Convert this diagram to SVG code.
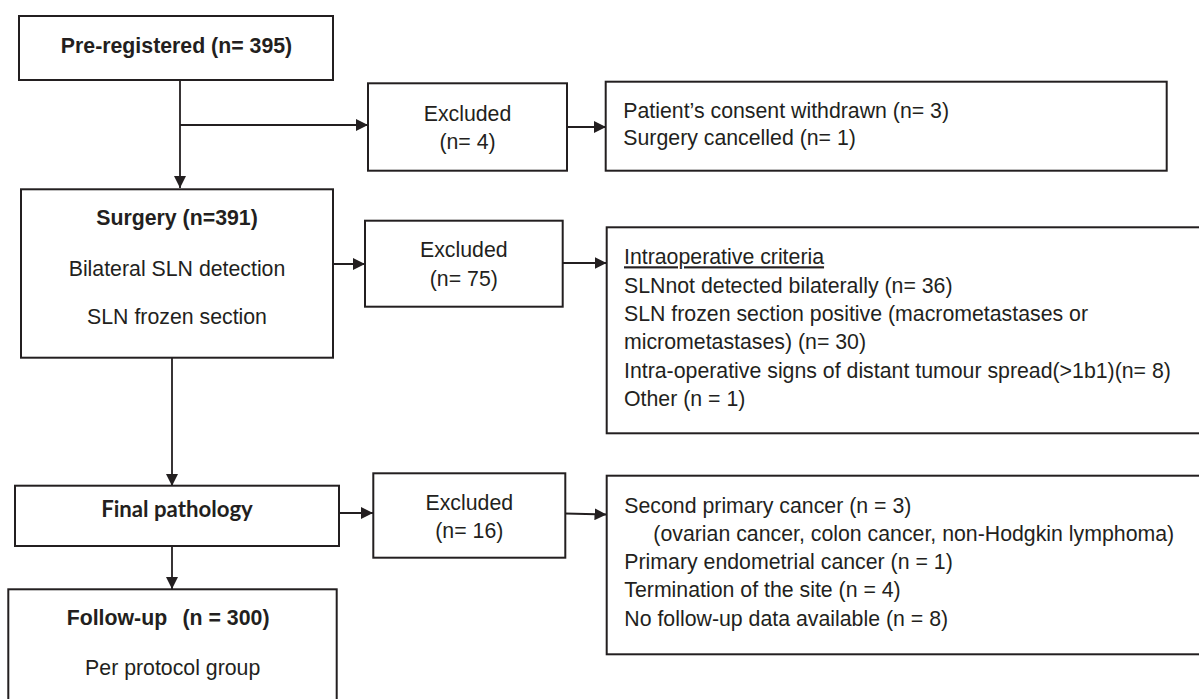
<svg xmlns="http://www.w3.org/2000/svg" width="1199" height="699" viewBox="0 0 1199 699">
<defs>
<marker id="ah" markerUnits="userSpaceOnUse" markerWidth="12" markerHeight="12" viewBox="0 0 12 12" refX="12" refY="6" orient="auto"><path d="M0,0 L12,6 L0,12 z" fill="#231f20"/></marker>
</defs>
<style>
.box{fill:#fff;stroke:#231f20;stroke-width:2}
.t{font-family:"Liberation Sans",Arial,sans-serif;font-size:21.3px;fill:#231f20}
.b{font-weight:bold}
.c{text-anchor:middle}
.cal{font-family:Lato,"Liberation Sans",sans-serif;font-weight:bold;font-size:22.2px;fill:#231f20}
.ln{fill:none;stroke:#231f20;stroke-width:1.8}
</style>
<rect width="1199" height="699" fill="#fff"/>
<g id="connectors">
<path class="ln" d="M180,80 V188" marker-end="url(#ah)"/>
<path class="ln" d="M180,125 H368" marker-end="url(#ah)"/>
<path class="ln" d="M567,127 H606" marker-end="url(#ah)"/>
<path class="ln" d="M331,264 H365" marker-end="url(#ah)"/>
<path class="ln" d="M563,263 H606.5" marker-end="url(#ah)"/>
<path class="ln" d="M172,358 V486" marker-end="url(#ah)"/>
<path class="ln" d="M339,513 H373" marker-end="url(#ah)"/>
<path class="ln" d="M565,513.5 L606.5,514.5" marker-end="url(#ah)"/>
<path class="ln" d="M172,546 V589" marker-end="url(#ah)"/>
</g>
<g id="preregistered">
<rect class="box" x="19" y="16" width="314" height="64"/>
<text class="t b c" x="176.5" y="53.3">Pre-registered (n= 395)</text>
</g>
<g id="excluded1">
<rect class="box" x="368" y="83.3" width="199" height="87.4"/>
<text class="t c" x="467.5" y="120.7">Excluded</text>
<text class="t c" x="467.5" y="148.5">(n= 4)</text>
</g>
<g id="reasons1">
<rect class="box" x="605.7" y="81.7" width="561" height="89"/>
<text class="t" x="623.3" y="117.7">Patient’s consent withdrawn (n= 3)</text>
<text class="t" x="623.3" y="145">Surgery cancelled (n= 1)</text>
</g>
<g id="surgery">
<rect class="box" x="21" y="189.3" width="312" height="168.4"/>
<text class="t b c" x="177" y="225">Surgery (n=391)</text>
<text class="t c" x="177" y="275.7">Bilateral SLN detection</text>
<text class="t c" x="177" y="324.3">SLN frozen section</text>
</g>
<g id="excluded2">
<rect class="box" x="365" y="220.7" width="197.7" height="86"/>
<text class="t c" x="463.8" y="257.3">Excluded</text>
<text class="t c" x="463.8" y="285.7">(n= 75)</text>
</g>
<g id="reasons2">
<rect class="box" x="606.7" y="227.3" width="600" height="206"/>
<text class="t" x="624" y="264.3" text-decoration="underline">Intraoperative criteria</text>
<text class="t" x="624" y="292.7">SLNnot detected bilaterally (n= 36)</text>
<text class="t" x="624" y="321">SLN frozen section positive (macrometastases or</text>
<text class="t" x="624" y="349.3">micrometastases) (n= 30)</text>
<text class="t" x="624" y="377.7">Intra-operative signs of distant tumour spread(&gt;1b1)(n= 8)</text>
<text class="t" x="624" y="406">Other (n = 1)</text>
</g>
<g id="finalpathology">
<rect class="box" x="15" y="485.7" width="324" height="60.3"/>
<text class="cal c" x="177" y="517.3">Final pathology</text>
</g>
<g id="excluded3">
<rect class="box" x="373.3" y="473.3" width="192" height="84.4"/>
<text class="t c" x="469.3" y="510">Excluded</text>
<text class="t c" x="469.3" y="538.3">(n= 16)</text>
</g>
<g id="reasons3">
<rect class="box" x="606.7" y="475.7" width="600" height="178.6"/>
<text class="t" x="624.3" y="512.7">Second primary cancer (n = 3)</text>
<text class="t" x="653.3" y="541">(ovarian cancer, colon cancer, non-Hodgkin lymphoma)</text>
<text class="t" x="624.3" y="569.3">Primary endometrial cancer (n = 1)</text>
<text class="t" x="624.3" y="597.3">Termination of the site (n = 4)</text>
<text class="t" x="624.3" y="625.7">No follow-up data available (n = 8)</text>
</g>
<g id="followup">
<rect class="box" x="8.3" y="589.3" width="328.4" height="120"/>
<text class="t b" x="66.7" y="625">Follow-up<tspan x="182.5">(n = 300)</tspan></text>
<text class="t c" x="172.7" y="675">Per protocol group</text>
</g>
</svg>
